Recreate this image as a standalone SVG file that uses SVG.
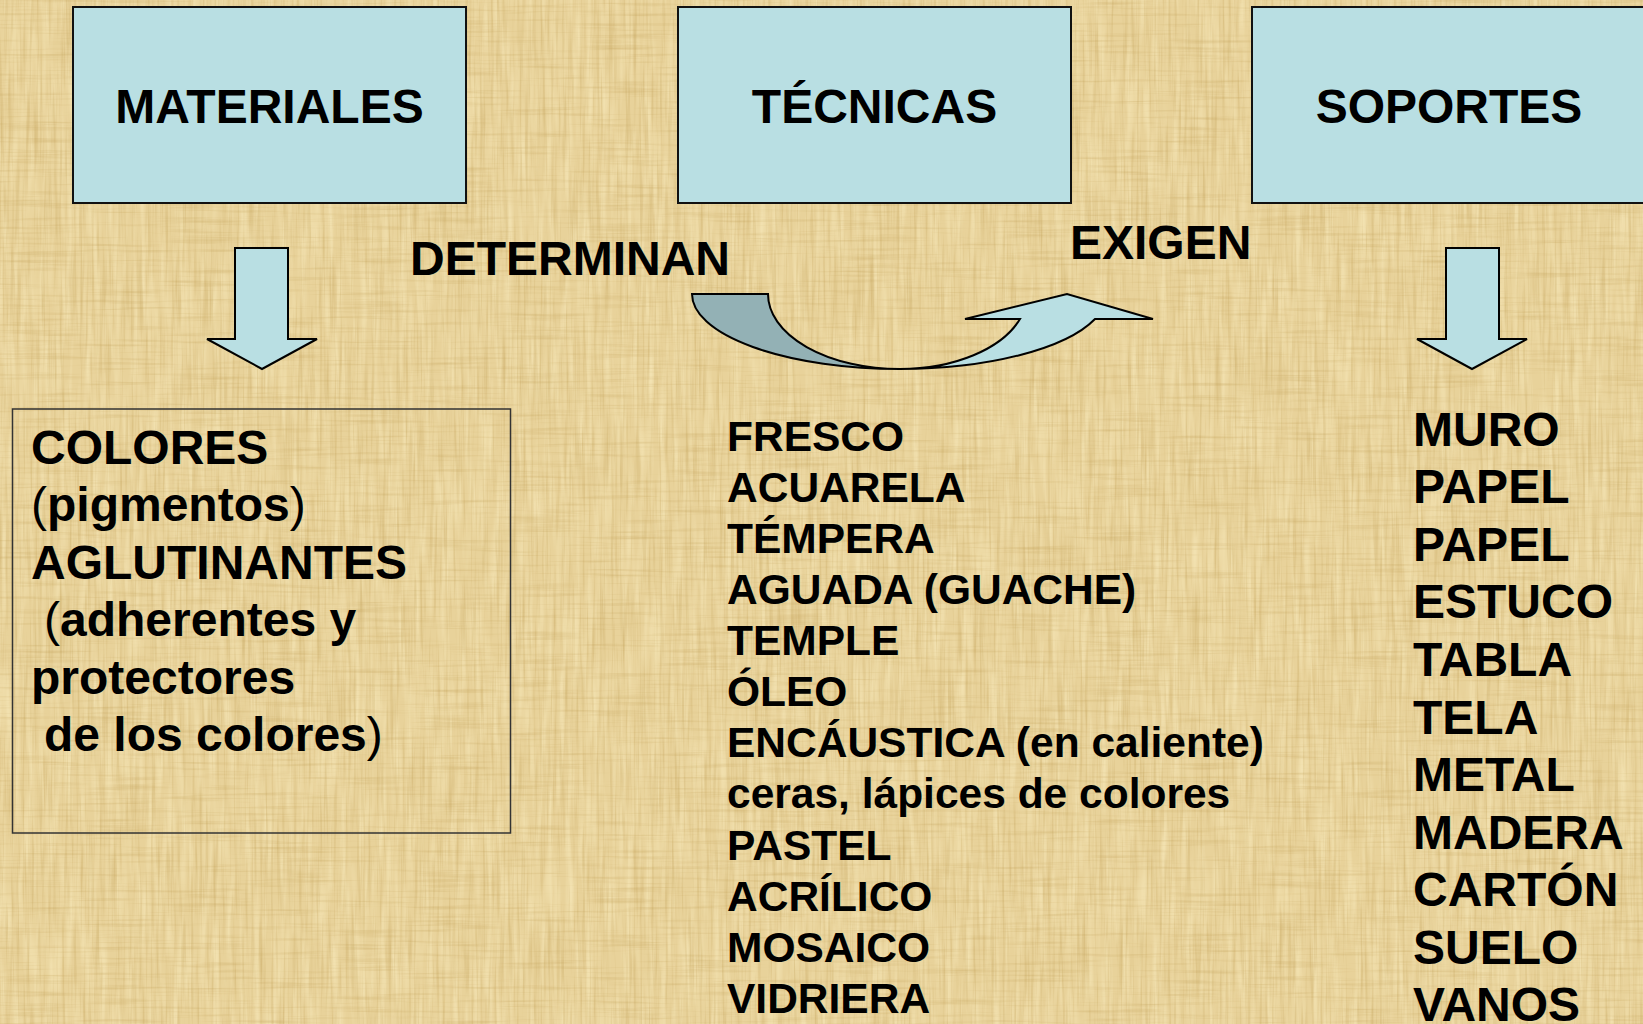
<svg xmlns="http://www.w3.org/2000/svg" width="1643" height="1024" viewBox="0 0 1643 1024">
<defs>
<filter id="vstreak" x="0" y="0" width="1" height="1" color-interpolation-filters="sRGB">
<feTurbulence type="fractalNoise" baseFrequency="0.35 0.012" numOctaves="3" seed="3"/>
<feColorMatrix type="matrix" values="0 0 0 0 0.72  0 0 0 0 0.58  0 0 0 0 0.28  0.7 0 0 0 -0.33"/>
</filter>
<filter id="hstreak" x="0" y="0" width="1" height="1" color-interpolation-filters="sRGB">
<feTurbulence type="fractalNoise" baseFrequency="0.012 0.3" numOctaves="3" seed="8"/>
<feColorMatrix type="matrix" values="0 0 0 0 0.72  0 0 0 0 0.58  0 0 0 0 0.28  0.6 0 0 0 -0.3"/>
</filter>
<filter id="light" x="0" y="0" width="1" height="1" color-interpolation-filters="sRGB">
<feTurbulence type="fractalNoise" baseFrequency="0.15 0.015" numOctaves="2" seed="21"/>
<feColorMatrix type="matrix" values="0 0 0 0 1  0 0 0 0 0.96  0 0 0 0 0.8  0 0.9 0 0 -0.35"/>
</filter>
</defs>
<style>
.box{fill:#b9dfe3;stroke:#111;stroke-width:2}
.arrow{fill:#b9dfe3;stroke:#000;stroke-width:2;stroke-linejoin:miter}
.back{fill:#93b1b5;stroke:#000;stroke-width:2}
.t{font-family:"Liberation Sans",Arial,Helvetica,sans-serif;font-weight:bold;fill:#000}
.h{font-size:48px;text-anchor:middle}
.l{font-size:48px}
.s{font-size:42.5px}
.p{font-weight:normal}
</style>
<g id="background">
<rect x="0" y="0" width="1643" height="1024" fill="#e8d29a"/>
<rect x="0" y="0" width="1643" height="1024" filter="url(#light)"/>
<rect x="0" y="0" width="1643" height="1024" filter="url(#vstreak)"/>
<rect x="0" y="0" width="1643" height="1024" filter="url(#hstreak)"/>
</g>
<g id="connectors">
<path class="arrow" d="M235,248 L288,248 L288,339 L317,339 L262,369 L207,339 L235,339 Z"/>
<path class="arrow" d="M1446,248 L1499,248 L1499,339 L1527,339 L1472,369 L1417,339 L1446,339 Z"/>
<path class="back" d="M692,294 A208,75 0 0,0 900,369 A132,75 0 0,1 768,294 Z"/>
<path class="arrow" d="M900,369 A207,75 0 0,0 1095,319 L1153,319 L1067,294 L965,319 L1020,319 A127.3,75 0 0,1 900,369 Z"/>
</g>
<g id="node-materiales">
<rect class="box" x="73" y="7" width="393" height="196"/>
<text class="t h" x="269.5" y="123">MATERIALES</text>
</g>
<g id="node-tecnicas">
<rect class="box" x="678" y="7" width="393" height="196"/>
<text class="t h" x="874.5" y="123">TÉCNICAS</text>
</g>
<g id="node-soportes">
<rect class="box" x="1252" y="7" width="393" height="196"/>
<text class="t h" x="1449" y="123">SOPORTES</text>
</g>
<g id="label-determinan">
<text class="t l" x="410" y="275">DETERMINAN</text>
</g>
<g id="label-exigen">
<text class="t l" x="1070" y="259">EXIGEN</text>
</g>
<g id="node-materiales-list">
<rect x="12.5" y="409" width="498" height="424" fill="none" stroke="#333" stroke-width="1.5"/>
<text class="t l" x="31" y="464">COLORES</text>
<text class="t l" x="31" y="521"><tspan class="p">(</tspan>pigmentos<tspan class="p">)</tspan></text>
<text class="t l" x="31" y="579">AGLUTINANTES</text>
<text class="t l" x="44" y="636"><tspan class="p">(</tspan>adherentes y</text>
<text class="t l" x="31" y="694">protectores</text>
<text class="t l" x="44" y="751">de los colores<tspan class="p">)</tspan></text>
</g>
<g id="node-tecnicas-list">
<text class="t s" x="727" y="451">FRESCO</text>
<text class="t s" x="727" y="502">ACUARELA</text>
<text class="t s" x="727" y="553">TÉMPERA</text>
<text class="t s" x="727" y="604">AGUADA (GUACHE)</text>
<text class="t s" x="727" y="655">TEMPLE</text>
<text class="t s" x="727" y="706">ÓLEO</text>
<text class="t s" x="727" y="757">ENCÁUSTICA (en caliente)</text>
<text class="t s" x="727" y="808">ceras, lápices de colores</text>
<text class="t s" x="727" y="860">PASTEL</text>
<text class="t s" x="727" y="911">ACRÍLICO</text>
<text class="t s" x="727" y="962">MOSAICO</text>
<text class="t s" x="727" y="1013">VIDRIERA</text>
</g>
<g id="node-soportes-list">
<text class="t l" x="1413" y="446">MURO</text>
<text class="t l" x="1413" y="503">PAPEL</text>
<text class="t l" x="1413" y="561">PAPEL</text>
<text class="t l" x="1413" y="618">ESTUCO</text>
<text class="t l" x="1413" y="676">TABLA</text>
<text class="t l" x="1413" y="734">TELA</text>
<text class="t l" x="1413" y="791">METAL</text>
<text class="t l" x="1413" y="849">MADERA</text>
<text class="t l" x="1413" y="906">CARTÓN</text>
<text class="t l" x="1413" y="964">SUELO</text>
<text class="t l" x="1413" y="1021">VANOS</text>
</g>
</svg>
